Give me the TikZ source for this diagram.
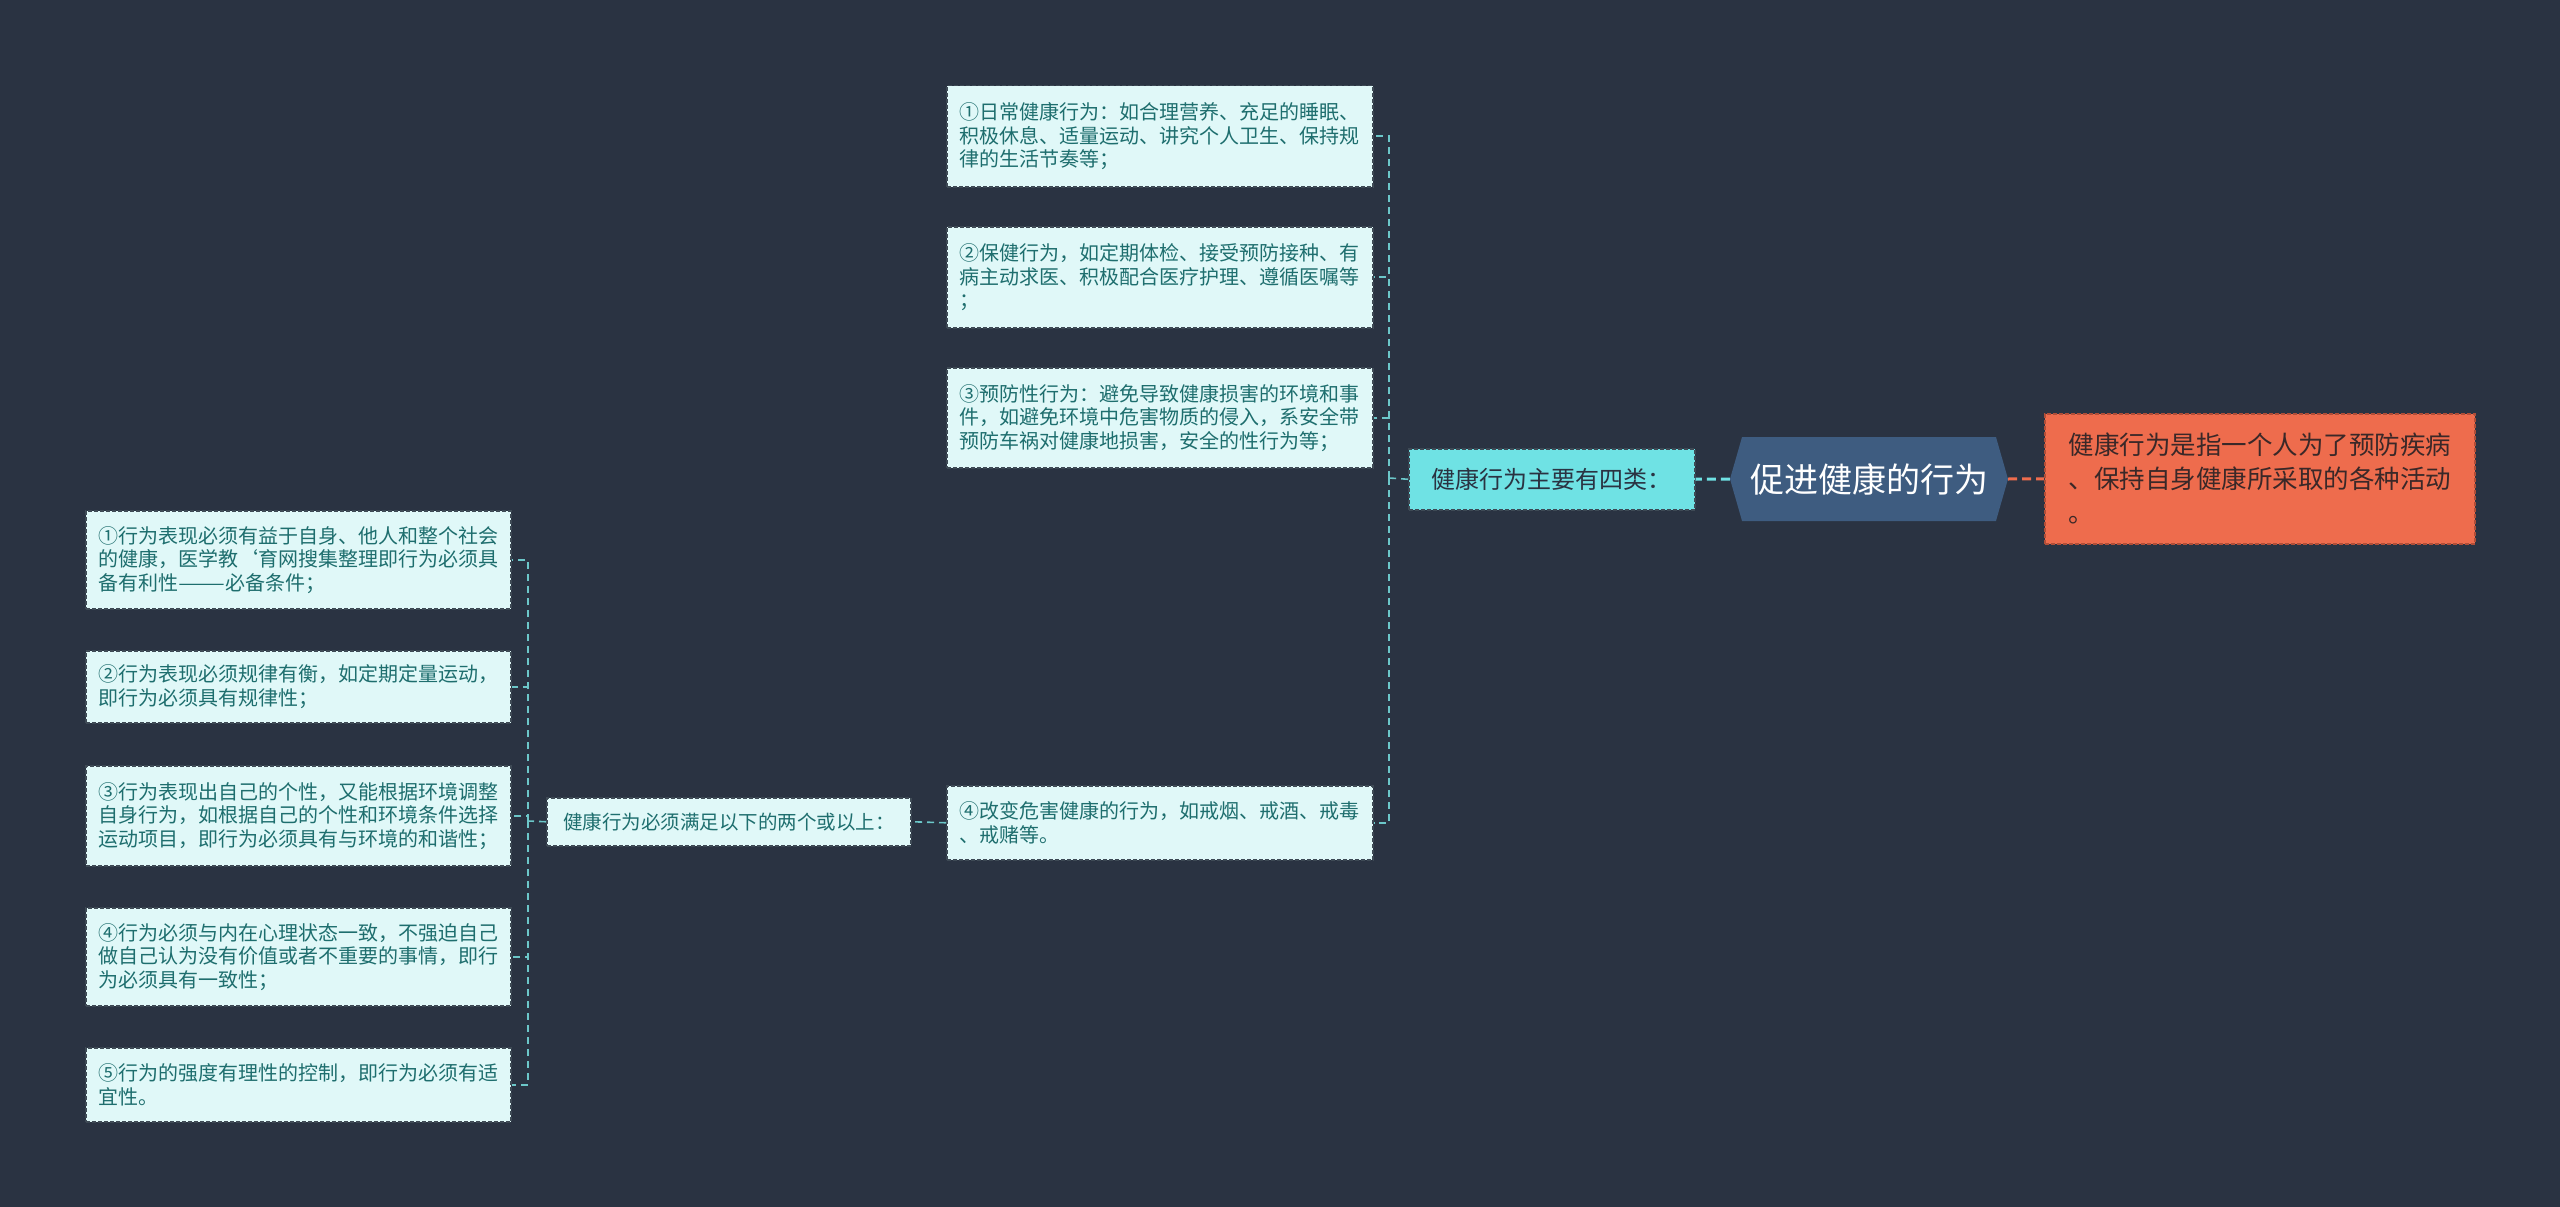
\documentclass[tikz,border=0pt]{standalone}
\usepackage{fontspec}
\usepackage{graphicx}
\setmainfont{Noto Sans CJK SC}
\usetikzlibrary{shapes.symbols}
\definecolor{bgc}{HTML}{2A3342}
\definecolor{leaffill}{HTML}{E0F8F8}
\definecolor{leaftext}{HTML}{1E6E6E}
\definecolor{leafborder}{HTML}{3E4A55}
\definecolor{connc}{HTML}{6CC7C9}
\definecolor{midfill}{HTML}{6FE2E4}
\definecolor{midtext}{HTML}{2A3342}
\definecolor{hexfill}{HTML}{3E5C80}
\definecolor{orfill}{HTML}{EE6C4D}
\definecolor{orborder}{HTML}{B04E38}
\definecolor{ortext}{HTML}{3A2828}
\tikzset{
  leaf/.style={draw=leafborder, dash pattern=on 4pt off 2pt, line width=1.5pt,
    fill=leaffill, text=leaftext, font=\fontsize{20}{23.5}\selectfont,
    align=left, inner sep=0pt, anchor=north west, minimum width=426pt},
  midbox/.style={draw=leafborder, dash pattern=on 4pt off 2pt, line width=1.5pt,
    fill=midfill, text=midtext, font=\fontsize{24}{28}\selectfont,
    inner sep=0pt, anchor=north west, minimum width=286pt, minimum height=61pt},
  rootbox/.style={signal, signal to=west and east, signal pointer angle=148,
    fill=hexfill, text=white, font=\fontsize{34}{40}\selectfont,
    minimum width=278pt, minimum height=84pt, inner sep=0pt},
  orbox/.style={draw=orborder, dash pattern=on 4pt off 2pt, line width=1.5pt,
    fill=orfill, text=ortext, font=\fontsize{25.5}{34}\selectfont,
    align=left, inner sep=0pt, anchor=north west, minimum width=430pt, minimum height=130pt},
  conn/.style={draw=connc, dash pattern=on 7pt off 5pt, line width=1.6pt},
}
\begin{document}
\begin{tikzpicture}[x=1pt,y=-1pt]
\fill[bgc] (0,0) rectangle (2560,1207);
\useasboundingbox (0,0) rectangle (2560,1207);

% root and first level
\node[rootbox] (root) at (1869,479) {促进健康的行为};
\node[midbox] (mid) at (1408,448) {健康行为主要有四类：};
\node[orbox] (def) at (2044,413) {健康行为是指一个人为了预防疾病\\、保持自身健康所采取的各种活动\\。};

% right column
\node[leaf, minimum height=101pt] (r1) at (946,85) {①日常健康行为：如合理营养、充足的睡眠、\\积极休息、适量运动、讲究个人卫生、保持规\\律的生活节奏等；};
\node[leaf, minimum height=101pt] (r2) at (946,226) {②保健行为，如定期体检、接受预防接种、有\\病主动求医、积极配合医疗护理、遵循医嘱等\\；};
\node[leaf, minimum height=100pt] (r3) at (946,367) {③预防性行为：避免导致健康损害的环境和事\\件，如避免环境中危害物质的侵入，系安全带\\预防车祸对健康地损害，安全的性行为等；};
\node[leaf, minimum height=74pt] (r4) at (946,785) {④改变危害健康的行为，如戒烟、戒酒、戒毒\\、戒赌等。};

% middle left
\node[leaf, minimum width=364pt, minimum height=48pt, font=\fontsize{19.5}{23}\selectfont] (ml) at (546,797) {健康行为必须满足以下的两个或以上：};

% left column
\node[leaf, minimum width=425pt, minimum height=98pt] (l1) at (85,510) {①行为表现必须有益于自身、他人和整个社会\\的健康，医学教\symbol{"60}育网搜集整理即行为必须具\\备有利性\scalebox{1.4}[1]{——}必备条件；};
\node[leaf, minimum width=425pt, minimum height=72pt] (l2) at (85,650) {②行为表现必须规律有衡，如定期定量运动，\\即行为必须具有规律性；};
\node[leaf, minimum width=425pt, minimum height=100pt] (l3) at (85,765) {③行为表现出自己的个性，又能根据环境调整\\自身行为，如根据自己的个性和环境条件选择\\运动项目，即行为必须具有与环境的和谐性；};
\node[leaf, minimum width=425pt, minimum height=98pt] (l4) at (85,907) {④行为必须与内在心理状态一致，不强迫自己\\做自己认为没有价值或者不重要的事情，即行\\为必须具有一致性；};
\node[leaf, minimum width=425pt, minimum height=74pt] (l5) at (85,1047) {⑤行为的强度有理性的控制，即行为必须有适\\宜性。};

% connectors
\draw[draw=midfill, dash pattern=on 9pt off 5pt, line width=3pt] (root.west) -- (mid.east);
\draw[draw=orfill, dash pattern=on 9pt off 5pt, line width=3pt] (root.east) -- (def.west);

\coordinate (rj) at (1389,478);
\draw[conn] (mid.west) -- (rj);
\draw[conn] (rj) |- (r1.east);
\draw[conn] (rj) |- (r2.east);
\draw[conn] (rj) |- (r3.east);
\draw[conn] (rj) |- (r4.east);

\draw[conn] (r4.west) -- (ml.east);

\coordinate (lj) at (528,821);
\draw[conn] (ml.west) -- (lj);
\draw[conn] (lj) |- (l1.east);
\draw[conn] (lj) |- (l2.east);
\draw[conn] (lj) |- (l3.east);
\draw[conn] (lj) |- (l4.east);
\draw[conn] (lj) |- (l5.east);
\end{tikzpicture}
\end{document}
